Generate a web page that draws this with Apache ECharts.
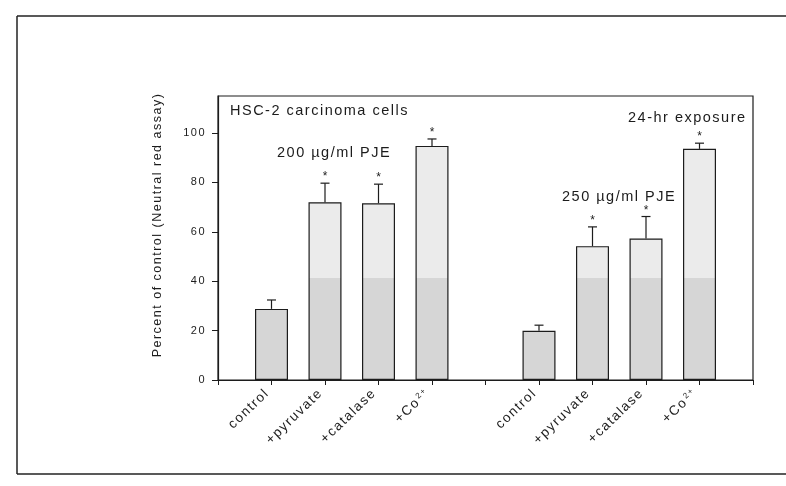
<!DOCTYPE html>
<html>
<head>
<meta charset="utf-8">
<script src="https://cdn.jsdelivr.net/npm/echarts@6/dist/echarts.min.js"></script>
<style>
  html, body { margin: 0; padding: 0; background: #fff; }
  #chart { width: 786px; height: 486px; }
</style>
</head>
<body>
<div id="chart"></div>
<script>
// x slots: two dose groups with a blank slot at each end and between them
const categories = ['', 'control', '+pyruvate', '+catalase', '+Co2+', '', 'control', '+pyruvate', '+catalase', '+Co2+', ''];
const group200Slots = [1, 2, 3, 4];
const group250Slots = [6, 7, 8, 9];

// viability (% of control, neutral red assay), mean and upper error
const pje200Mean = [28.8, 72.0, 71.6, 94.8];
const pje200Err = [3.6, 7.7, 7.7, 2.8];
const pje250Mean = [19.9, 54.2, 57.3, 93.6];
const pje250Err = [2.3, 7.8, 8.9, 2.3];
// asterisk = significant versus control
const pje200Sig = [0, 1, 1, 1];
const pje250Sig = [0, 1, 1, 1];

const yTicks = [0, 20, 40, 60, 80, 100];

const FONT = "'Liberation Sans', Arial, sans-serif";
const INK = '#1c1c1c';

// loose tracking for every piece of canvas text
const baseFillText = CanvasRenderingContext2D.prototype.fillText;
CanvasRenderingContext2D.prototype.fillText = function (...args) {
  this.letterSpacing = '1.5px';
  return baseFillText.apply(this, args);
};

const barValues = categories.map(() => '-');
const errItems = [];
group200Slots.forEach((slot, i) => {
  barValues[slot] = pje200Mean[i];
  errItems.push([slot, pje200Mean[i], pje200Err[i], pje200Sig[i]]);
});
group250Slots.forEach((slot, i) => {
  barValues[slot] = pje250Mean[i];
  errItems.push([slot, pje250Mean[i], pje250Err[i], pje250Sig[i]]);
});

// "+Co2+" is written with a superscript charge
function formatCategory(v) {
  if (v === '+Co2+') return '{base|+Co}{sup|2+}';
  return v;
}

const chart = echarts.init(document.getElementById('chart'), null, { renderer: 'canvas' });

const option = {
  backgroundColor: '#fff',
  animation: false,
  textStyle: { fontFamily: FONT, color: INK },
  grid: {
    left: 218, right: 33, top: 96, bottom: 106,
    show: true, borderColor: INK, borderWidth: 1.2, backgroundColor: 'transparent',
    outerBoundsMode: 'none'
  },
  xAxis: {
    type: 'category',
    data: categories,
    boundaryGap: false,
    axisLine: { show: true, lineStyle: { color: INK, width: 1.2 } },
    axisTick: { show: true, interval: 0, length: 5, lineStyle: { color: INK, width: 1 } },
    axisLabel: {
      interval: 0,
      rotate: 44,
      margin: 7,
      padding: [0, 6, 0, 0],
      fontSize: 13.5,
      color: INK,
      fontFamily: FONT,
      formatter: formatCategory,
      rich: {
        base: { fontSize: 13.5, fontFamily: FONT, color: INK, padding: [0, 4, 0, 0] },
        sup: { fontSize: 8, fontFamily: FONT, color: INK, verticalAlign: 'top', padding: [0, 0, 0, 0] }
      }
    },
    splitLine: { show: false }
  },
  yAxis: {
    type: 'value',
    min: 0, max: 115, interval: 20,
    axisLine: { show: true, lineStyle: { color: INK, width: 1.2 } },
    axisTick: { show: true, length: 6, customValues: yTicks, lineStyle: { color: INK, width: 1 } },
    axisLabel: { customValues: yTicks, fontSize: 11, margin: 12, color: INK, fontFamily: FONT },
    splitLine: { show: false }
  },
  series: [
    {
      type: 'bar',
      data: barValues,
      barWidth: 33,
      itemStyle: {
        color: {
          type: 'linear', x: 0, y: 0, x2: 0, y2: 486, global: true,
          colorStops: [
            { offset: 0, color: '#ebebeb' },
            { offset: 0.571, color: '#ebebeb' },
            { offset: 0.572, color: '#d6d6d6' },
            { offset: 1, color: '#d6d6d6' }
          ]
        },
        borderColor: INK,
        borderWidth: 1.2
      }
    },
    {
      type: 'custom',
      data: errItems,
      encode: { x: 0, y: 1 },
      z: 5,
      renderItem: (params, api) => {
        const slot = api.value(0), mean = api.value(1), err = api.value(2), sig = api.value(3);
        const base = api.coord([slot, mean]);
        const top = api.coord([slot, mean + err]);
        const children = [
          { type: 'line', shape: { x1: base[0], y1: base[1], x2: top[0], y2: top[1] },
            style: { stroke: INK, lineWidth: 1.2 } },
          { type: 'line', shape: { x1: top[0] - 4.5, y1: top[1], x2: top[0] + 4.5, y2: top[1] },
            style: { stroke: INK, lineWidth: 1.2 } }
        ];
        if (sig) {
          children.push({
            type: 'text', x: top[0] + 0.75, y: top[1] - 12,
            style: { text: '*', fontSize: 12, fontFamily: FONT, fill: INK, align: 'center', verticalAlign: 'top' }
          });
        }
        return { type: 'group', children };
      }
    }
  ],
  graphic: [
    // outer figure border
    { type: 'line', shape: { x1: 17, y1: 16, x2: 786, y2: 16 }, style: { stroke: '#222', lineWidth: 1.5 } },
    { type: 'line', shape: { x1: 17, y1: 16, x2: 17, y2: 474 }, style: { stroke: '#222', lineWidth: 1.5 } },
    { type: 'line', shape: { x1: 17, y1: 474, x2: 786, y2: 474 }, style: { stroke: '#222', lineWidth: 1.5 } },
    // panel annotations
    { type: 'text', x: 230, y: 111, style: { text: 'HSC-2 carcinoma cells', fontSize: 14.5, fontFamily: FONT, fill: INK, verticalAlign: 'middle' } },
    { type: 'text', x: 277, y: 153, style: { text: '200 µg/ml PJE', fontSize: 14.5, fontFamily: FONT, fill: INK, verticalAlign: 'middle' } },
    { type: 'text', x: 628, y: 118, style: { text: '24-hr exposure', fontSize: 14.5, fontFamily: FONT, fill: INK, verticalAlign: 'middle' } },
    { type: 'text', x: 562, y: 197, style: { text: '250 µg/ml PJE', fontSize: 14.5, fontFamily: FONT, fill: INK, verticalAlign: 'middle' } },
    // y axis title
    { type: 'text', x: 158, y: 225, rotation: Math.PI / 2,
      style: { text: 'Percent of control (Neutral red assay)', fontSize: 12.5, fontFamily: FONT, fill: INK, align: 'center', verticalAlign: 'middle' } }
  ]
};

chart.setOption(option);
</script>
</body>
</html>
